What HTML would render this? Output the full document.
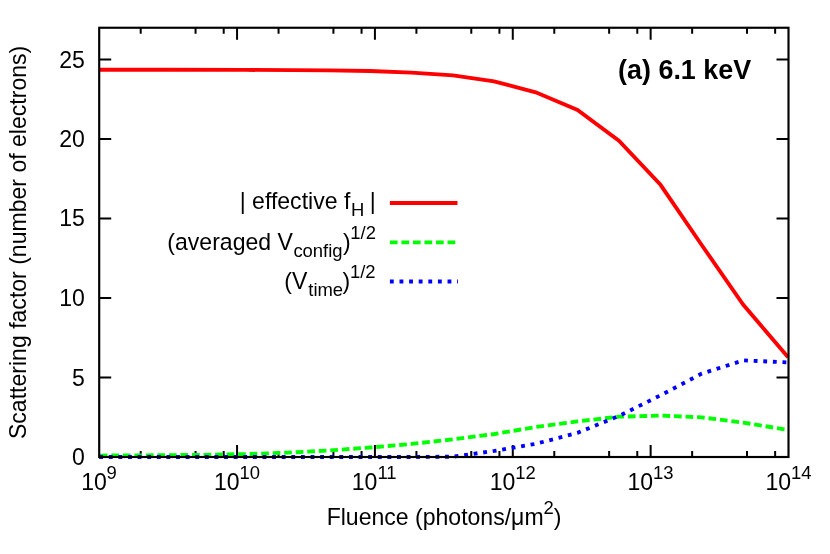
<!DOCTYPE html><html><head><meta charset="utf-8"><style>html,body{margin:0;padding:0;background:#fff}svg{display:block;will-change:transform}text{font-family:"Liberation Sans",sans-serif;fill:#000}</style></head><body>
<svg width="830" height="554" viewBox="0 0 830 554">
<rect width="830" height="554" fill="#fff"/>
<g stroke="#000" stroke-width="2.0" fill="none" stroke-linecap="butt">
<path d="M99.2 377.51h12M788.5 377.51h-12"/>
<path d="M99.2 298.02h12M788.5 298.02h-12"/>
<path d="M99.2 218.53h12M788.5 218.53h-12"/>
<path d="M99.2 139.04h12M788.5 139.04h-12"/>
<path d="M99.2 59.55h12M788.5 59.55h-12"/>
<path d="M140.70 457.0v-6M140.70 27.8v6"/>
<path d="M195.56 457.0v-6M195.56 27.8v6"/>
<path d="M223.70 457.0v-6M223.70 27.8v6"/>
<path d="M237.06 457.0v-12M237.06 27.8v12"/>
<path d="M278.56 457.0v-6M278.56 27.8v6"/>
<path d="M333.42 457.0v-6M333.42 27.8v6"/>
<path d="M361.56 457.0v-6M361.56 27.8v6"/>
<path d="M374.92 457.0v-12M374.92 27.8v12"/>
<path d="M416.42 457.0v-6M416.42 27.8v6"/>
<path d="M471.28 457.0v-6M471.28 27.8v6"/>
<path d="M499.42 457.0v-6M499.42 27.8v6"/>
<path d="M512.78 457.0v-12M512.78 27.8v12"/>
<path d="M554.28 457.0v-6M554.28 27.8v6"/>
<path d="M609.14 457.0v-6M609.14 27.8v6"/>
<path d="M637.28 457.0v-6M637.28 27.8v6"/>
<path d="M650.64 457.0v-12M650.64 27.8v12"/>
<path d="M692.14 457.0v-6M692.14 27.8v6"/>
<path d="M747.00 457.0v-6M747.00 27.8v6"/>
<path d="M775.14 457.0v-6M775.14 27.8v6"/>
</g>
<polyline points="99.2,69.7 162.9,69.7 245.8,69.9 328.7,70.4 370.1,71.0 411.5,72.6 453.0,75.4 494.1,81.4 535.7,92.3 577.5,110.0 618.9,140.6 660.5,184.8 701.7,245.0 743.3,304.8 788.1,357.3" fill="none" stroke="#ff0000" stroke-width="3.85" stroke-linejoin="miter"/>
<polyline points="99.2,455.6 162.7,455.2 204.2,454.8 245.7,454.1 287.1,452.7 328.6,450.5 370.1,447.5 411.5,443.9 453.0,439.4 494.5,434.0 535.9,427.0 577.4,421.4 618.9,416.7 660.4,415.6 701.8,417.4 743.3,422.6 788.5,430.0" fill="none" stroke="#00ff00" stroke-width="3.85" stroke-linejoin="miter" stroke-dasharray="7.685 3.843" stroke-dashoffset="-0.6"/>
<polyline points="99.2,457.0 411.5,457.0 453.0,456.7 494.5,450.9 535.9,443.8 577.4,432.9 618.9,416.0 660.4,395.4 701.8,373.6 743.3,360.4 788.5,362.4" fill="none" stroke="#0000ff" stroke-width="3.85" stroke-linejoin="miter" stroke-dasharray="3.843 5.764"/>
<polyline points="389.9,203.0 457.5,203.0" fill="none" stroke="#ff0000" stroke-width="3.85" stroke-linejoin="miter"/>
<polyline points="389.9,242.4 457.5,242.4" fill="none" stroke="#00ff00" stroke-width="3.85" stroke-linejoin="miter" stroke-dasharray="7.685 3.843"/>
<polyline points="389.9,281.5 458.0,281.5" fill="none" stroke="#0000ff" stroke-width="3.85" stroke-linejoin="miter" stroke-dasharray="3.843 5.764"/>
<rect x="99.20" y="27.75" width="689.30" height="429.25" stroke="#000" stroke-width="2.15" fill="none"/>
<text x="84.9" y="465.2" font-size="23.06" text-anchor="end">0</text>
<text x="84.9" y="385.5" font-size="23.06" text-anchor="end">5</text>
<text x="84.9" y="306.0" font-size="23.06" text-anchor="end">10</text>
<text x="84.9" y="226.0" font-size="23.06" text-anchor="end">15</text>
<text x="84.9" y="146.8" font-size="23.06" text-anchor="end">20</text>
<text x="84.9" y="68.0" font-size="23.06" text-anchor="end">25</text>
<text x="81.2" y="489.8" font-size="23.06">10</text>
<text x="106.5" y="478.8" font-size="18.45">9</text>
<text x="214.0" y="489.8" font-size="23.06">10</text>
<text x="239.6" y="478.8" font-size="18.45">10</text>
<text x="351.8" y="489.8" font-size="23.06">10</text>
<text x="377.4" y="478.8" font-size="18.45">11</text>
<text x="489.7" y="489.8" font-size="23.06">10</text>
<text x="515.3" y="478.8" font-size="18.45">12</text>
<text x="627.5" y="489.8" font-size="23.06">10</text>
<text x="653.1" y="478.8" font-size="18.45">13</text>
<text x="765.4" y="489.8" font-size="23.06">10</text>
<text x="791.0" y="478.8" font-size="18.45">14</text>
<text x="444.1" y="525.4" font-size="23.06" text-anchor="middle">Fluence (photons/μm<tspan font-size="18.45" dy="-11.5">2</tspan><tspan dy="11.5">)</tspan></text>
<text transform="translate(26.0,242.4) rotate(-90)" font-size="23.06" text-anchor="middle">Scattering factor (number of electrons)</text>
<text x="618.1" y="79.4" font-size="26.9" font-weight="bold">(a) 6.1 keV</text>
<text x="350.3" y="209.2" font-size="23.06" text-anchor="end">| effective f</text>
<text x="350.9" y="215.5" font-size="18.45" text-anchor="start">H</text>
<text x="375.7" y="209.2" font-size="23.06" text-anchor="end">|</text>
<text x="292.9" y="249.6" font-size="23.06" text-anchor="end">(averaged V</text>
<text x="293.4" y="257.1" font-size="18.45" text-anchor="start">config</text>
<text x="342.9" y="249.9" font-size="23.06" text-anchor="start">)</text>
<text x="375.9" y="238.6" font-size="18.45" text-anchor="end">1/2</text>
<text x="307.3" y="288.5" font-size="23.06" text-anchor="end">(V</text>
<text x="308.3" y="296.0" font-size="18.45" text-anchor="start">time</text>
<text x="342.4" y="288.7" font-size="23.06" text-anchor="start">)</text>
<text x="375.6" y="277.6" font-size="18.45" text-anchor="end">1/2</text>
</svg></body></html>
